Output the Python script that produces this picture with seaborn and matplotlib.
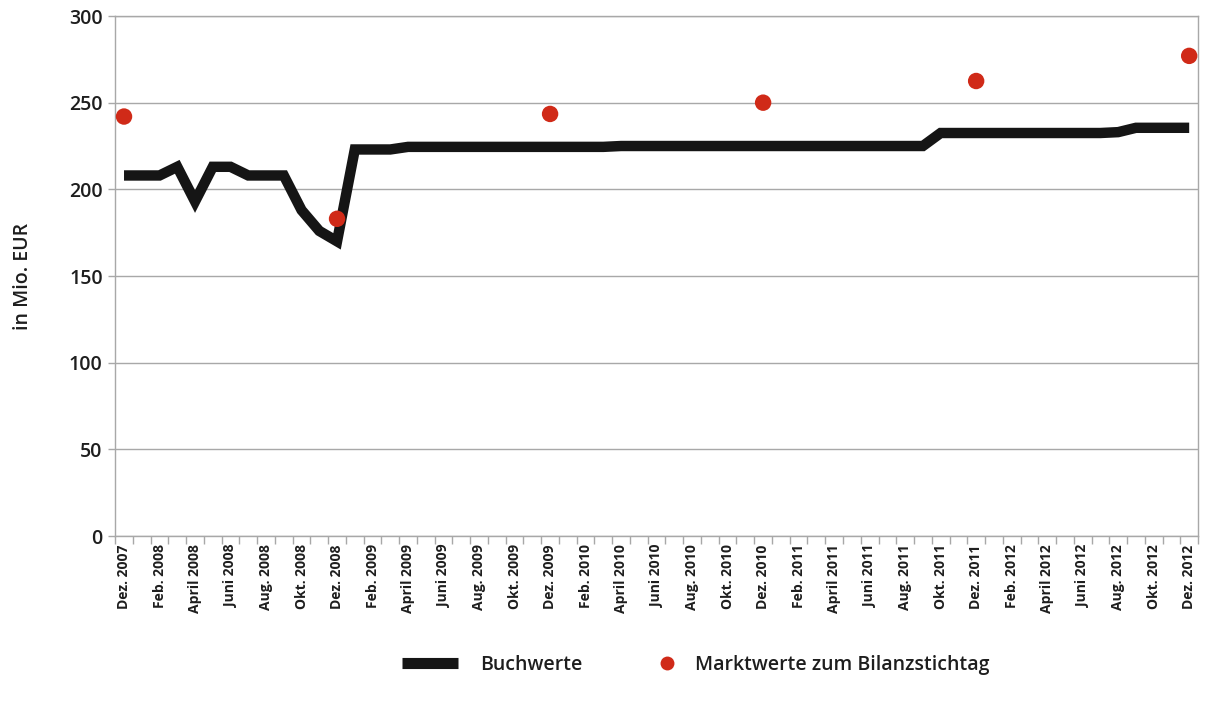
import numpy as np
import pandas as pd
import matplotlib
matplotlib.use("Agg")
import matplotlib.pyplot as plt
import seaborn as sns
from matplotlib.lines import Line2D
from matplotlib.ticker import FixedLocator

# Monthly book values, Dec 2007 .. Dec 2012 (in Mio. EUR)
buchwerte = [
    208, 208, 208, 213, 193, 213, 213, 208, 208, 208, 188, 176, 170,   # Dez 07 - Dez 08
    223, 223, 223,                                                     # Jan 09 - Mrz 09
    224.5, 224.5, 224.5, 224.5, 224.5, 224.5, 224.5, 224.5, 224.5,     # Apr 09 - Dez 09
    224.5, 224.5, 224.5, 225, 225, 225, 225, 225, 225, 225, 225, 225,  # Jan 10 - Dez 10
    225, 225, 225, 225, 225, 225, 225, 225, 225,                       # Jan 11 - Sep 11
    232.5, 232.5, 232.5,                                               # Okt 11 - Dez 11
    232.5, 232.5, 232.5, 232.5, 232.5, 232.5, 232.5, 233,              # Jan 12 - Aug 12
    235.5, 235.5, 235.5, 235.5,                                        # Sep 12 - Dez 12
]

# Market values at the balance sheet date (each December)
stichtag_index = [0, 12, 24, 36, 48, 60]
marktwerte = [242, 183, 243.5, 250, 262.5, 277]

monate = ["Dez.", "Feb.", "April", "Juni", "Aug.", "Okt."]

tick_labels = []
for k in range(31):
    m = 2 * k  # months since Dez. 2007
    jahr = 2007 + (m + 11) // 12
    tick_labels.append(f"{monate[k % 6]} {jahr}")

df_line = pd.DataFrame({"monat": np.arange(len(buchwerte)), "wert": buchwerte})
df_pts = pd.DataFrame({"monat": stichtag_index, "wert": marktwerte})

sns.set_theme(style="white")
plt.rcParams["font.family"] = ["Open Sans", "DejaVu Sans"]

fig = plt.figure(figsize=(12.12, 7.05), dpi=100)
ax = fig.add_axes([0.095, 0.2397, 0.8935, 0.7376])

line_col = "#151515"
dot_col = "#d02a18"
grid_col = "#a8a8a8"
text_col = "#1e1e1e"

sns.lineplot(data=df_line, x="monat", y="wert", ax=ax, color=line_col,
             linewidth=7.5, solid_capstyle="butt", solid_joinstyle="miter", zorder=3)
sns.scatterplot(data=df_pts, x="monat", y="wert", ax=ax, color=dot_col,
                s=140, edgecolor="none", zorder=4)

ax.set_xlim(-0.5, 60.5)
ax.set_ylim(0, 300)
ax.set_yticks(np.arange(0, 301, 50))
ax.yaxis.grid(True, color=grid_col, linewidth=1.0)
ax.xaxis.grid(False)
ax.set_axisbelow(True)

# labels every second month, tick marks at month boundaries
ax.set_xticks(np.arange(0, 61, 2))
ax.set_xticklabels(tick_labels, rotation=90, fontsize=10, fontweight="bold",
                   color=text_col)
ax.xaxis.set_minor_locator(FixedLocator(np.arange(-0.5, 61, 1)))
ax.tick_params(axis="x", which="major", length=0, pad=6)
ax.tick_params(axis="x", which="minor", length=6, width=1, color=grid_col,
               direction="out", bottom=True)
ax.tick_params(axis="y", length=5, width=1, color=grid_col, labelsize=14,
               labelcolor=text_col, left=True, pad=4)
for lab in ax.get_yticklabels():
    lab.set_fontweight("semibold")

for s in ax.spines.values():
    s.set_color(grid_col)
    s.set_linewidth(1.0)

ax.set_xlabel("")
ax.set_ylabel("in Mio. EUR", fontsize=14, fontweight="semibold", color=text_col,
              labelpad=26)

leg_kw = dict(loc="center left", frameon=False, borderpad=0, borderaxespad=0,
              prop={"size": 14, "weight": "semibold"}, labelcolor=text_col)
fig.legend([Line2D([0], [0], color=line_col, linewidth=8, solid_capstyle="butt")],
           ["Buchwerte"], bbox_to_anchor=(0.3317, 0.057),
           handlelength=2.9, handletextpad=1.1, **leg_kw)
fig.legend([Line2D([0], [0], marker="o", linestyle="none", markersize=10,
                   markerfacecolor=dot_col, markeredgecolor="none")],
           ["Marktwerte zum Bilanzstichtag"], bbox_to_anchor=(0.542, 0.057),
           handlelength=1.0, handletextpad=0.95, **leg_kw)

fig.savefig("out.png", dpi=100, facecolor="white")
